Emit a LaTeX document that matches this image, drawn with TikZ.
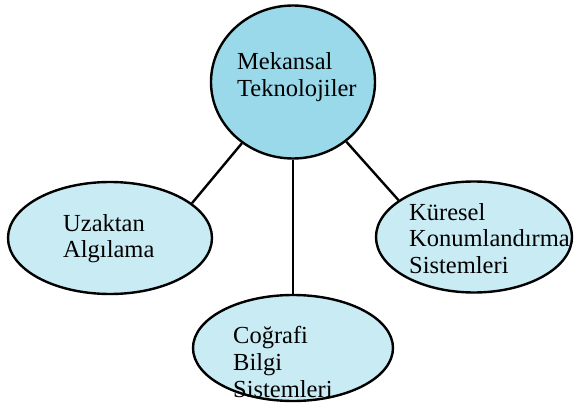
\documentclass[tikz,border=0pt]{standalone}
\usepackage{fontspec}
\setmainfont{Liberation Serif}
\usetikzlibrary{shapes.geometric}
\definecolor{topblue}{RGB}{153,217,234}
\definecolor{lightblue}{RGB}{201,235,244}
\tikzset{
  bubble/.style={ellipse, draw=black, line width=2.4pt, inner sep=0pt},
  lbl/.style={anchor=base west, inner sep=0pt, font=\fontsize{24.5}{27}\selectfont},
  conn/.style={draw=black, line width=2.4pt}
}
\begin{document}
\begin{tikzpicture}[x=1pt,y=-1pt]
\useasboundingbox (0,0) rectangle (574,404);
\node[bubble, fill=topblue, minimum width=164pt, minimum height=153pt] (top) at (293,82) {};
\node[bubble, fill=lightblue, minimum width=204pt, minimum height=112pt] (left) at (110,238) {};
\node[bubble, fill=lightblue, minimum width=196pt, minimum height=111pt] (right) at (474,237) {};
\node[bubble, fill=lightblue, minimum width=200pt, minimum height=106pt] (bottom) at (293,348) {};
\draw[conn] (top) -- (left.23);
\draw[conn] (top) -- (right.154);
\draw[conn] (top.south) -- (bottom.north);
\node[lbl] (t1) at (237,70) {Mekansal};
\node[lbl] (t2) at (237,97) {Teknolojiler};
\node[lbl] (l1) at (63,232) {Uzaktan};
\node[lbl] (l2) at (63,258) {Algılama};
\node[lbl] (r1) at (409,220) {Küresel};
\node[lbl] (r2) at (409,247) {Konumlandırma};
\node[lbl] (r3) at (409,273) {Sistemleri};
\node[lbl] (b1) at (233,343) {Coğrafi};
\node[lbl] (b2) at (233,370) {Bilgi};
\node[lbl] (b3) at (233,397) {Sistemleri};
\end{tikzpicture}
\end{document}
